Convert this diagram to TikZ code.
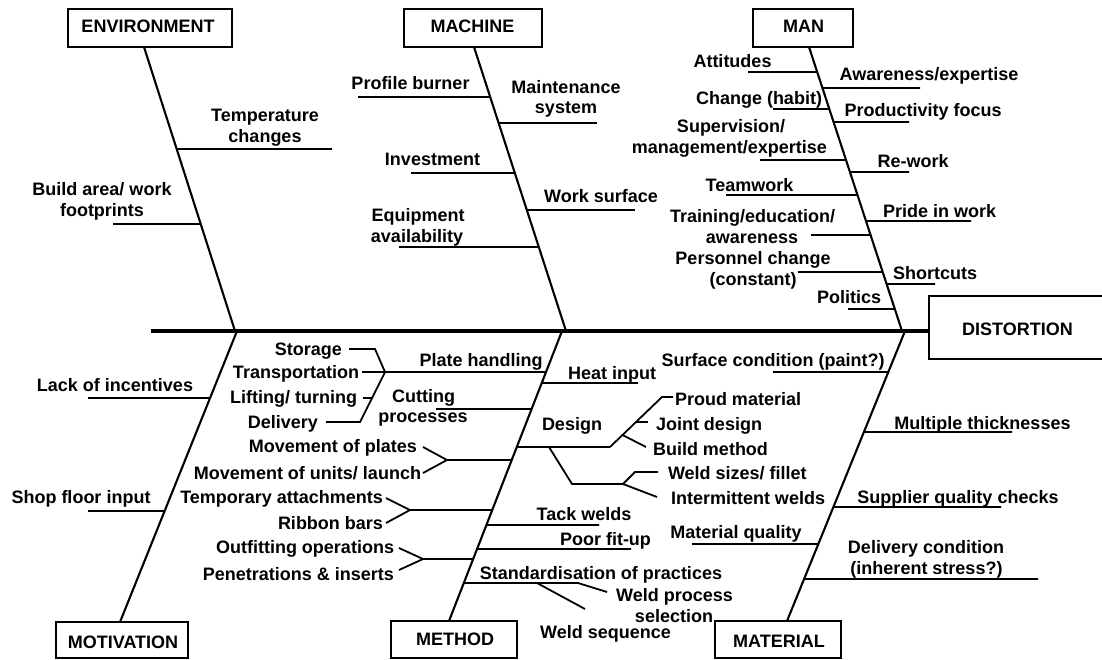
\documentclass[tikz,border=0pt]{standalone}
\usepackage{fontspec}
\setmainfont{Liberation Sans}
\newcommand\lbf{\fontsize{18}{21}\selectfont\bfseries}
\tikzset{
  lbl/.style={font=\lbf, inner sep=0pt, outer sep=0pt},
  boxn/.style={draw, line width=2pt, inner sep=0pt},
  spine/.style={line width=2.1pt},
  branch/.style={line width=1.8pt},
  mainl/.style={line width=4pt},
}
\newcommand\brn[3]{\draw[branch] (intersection of #1T--#1B and 0,#2--1,#2) -- (#3,#2);}
\begin{document}
\begin{tikzpicture}[x=1pt,y=-1pt]
\useasboundingbox (0,0) rectangle (1102,659);
\clip (0,0) rectangle (1102,659);
\fill[white] (0,0) rectangle (1102,659);

% ---- boxes
\node[boxn, minimum width=164pt, minimum height=38pt] (env) at (150,28) {};
\node[lbl, anchor=base] (envL) at (148,32) {ENVIRONMENT};
\node[boxn, minimum width=138pt, minimum height=38pt] (mac) at (473,28) {};
\node[lbl, anchor=base] (macL) at (472.5,32) {MACHINE};
\node[boxn, minimum width=100pt, minimum height=38pt] (man) at (803,28) {};
\node[lbl, anchor=base] (manL) at (803.5,32) {MAN};
\node[boxn, minimum width=132pt, minimum height=36pt] (mot) at (122,640) {};
\node[lbl, anchor=base] (motL) at (123,648) {MOTIVATION};
\node[boxn, minimum width=126pt, minimum height=37pt] (met) at (454,639.5) {};
\node[lbl, anchor=base] (metL) at (455,645) {METHOD};
\node[boxn, minimum width=126pt, minimum height=37pt] (mat) at (778,639.5) {};
\node[lbl, anchor=base] (matL) at (779,647) {MATERIAL};
\node[boxn, line width=2.5pt, minimum width=181pt, minimum height=63pt] (dist) at (1019.5,327.5) {};
\node[lbl, anchor=base] (distL) at (1017.5,335) {DISTORTION};

% ---- spines
\coordinate (envT) at (144,47);  \coordinate (envB) at (235,331);
\coordinate (macT) at (474,47);  \coordinate (macB) at (566,331);
\coordinate (manT) at (809,47);  \coordinate (manB) at (902,331);
\coordinate (motT) at (237,331); \coordinate (motB) at (120,622);
\coordinate (metT) at (562,331); \coordinate (metB) at (449,621);
\coordinate (matT) at (905,331); \coordinate (matB) at (787,621);
\coordinate (mainS) at (151,331);
\draw[mainl] (mainS) -- (mainS -| dist.west);
\foreach \s in {env,mac,man,mot,met,mat} {\draw[spine] (\s T) -- (\s B);}

% ---- ENVIRONMENT
\brn{env}{149}{332}
\node[lbl, anchor=base] (e1a) at (265,121) {Temperature};
\node[lbl, anchor=base] (e1b) at (265,142) {changes};
\brn{env}{224}{113}
\node[lbl, anchor=base] (e2a) at (102,195) {Build area/ work};
\node[lbl, anchor=base] (e2b) at (102,216) {footprints};

% ---- MACHINE
\brn{mac}{97}{358}
\node[lbl, anchor=base] (m1) at (410.5,89) {Profile burner};
\brn{mac}{123}{597}
\node[lbl, anchor=base] (m2a) at (566,93) {Maintenance};
\node[lbl, anchor=base] (m2b) at (566,113) {system};
\brn{mac}{173}{411}
\node[lbl, anchor=base] (m3) at (432.5,165) {Investment};
\brn{mac}{210}{635}
\node[lbl, anchor=base] (m4) at (601,202) {Work surface};
\brn{mac}{247}{399}
\node[lbl, anchor=base] (m5a) at (418,221) {Equipment};
\node[lbl, anchor=base] (m5b) at (417,242) {availability};

% ---- MAN
\brn{man}{72}{748}
\node[lbl, anchor=base] (n1) at (732.5,67) {Attitudes};
\brn{man}{88}{920}
\node[lbl, anchor=base] (n2) at (929,80) {Awareness/expertise};
\brn{man}{109}{773}
\node[lbl, anchor=base] (n3) at (759,104) {Change (habit)};
\brn{man}{122}{909}
\node[lbl, anchor=base] (n4) at (923,116) {Productivity focus};
\brn{man}{160}{760}
\node[lbl, anchor=base] (n5a) at (731,132) {Supervision/};
\node[lbl, anchor=base east] (n5b) at (827,153) {management/expertise};
\brn{man}{172}{909}
\node[lbl, anchor=base] (n6) at (913,167) {Re-work};
\brn{man}{195}{726}
\node[lbl, anchor=base] (n7) at (749.5,191) {Teamwork};
\brn{man}{221}{971}
\node[lbl, anchor=base] (n8) at (939.5,217) {Pride in work};
\brn{man}{235}{811}
\node[lbl, anchor=base] (n9a) at (752.5,222) {Training/education/};
\node[lbl, anchor=base] (n9b) at (752,243) {awareness};
\brn{man}{272}{798}
\node[lbl, anchor=base] (n10a) at (753,264) {Personnel change};
\node[lbl, anchor=base] (n10b) at (753,285) {(constant)};
\brn{man}{284}{935}
\node[lbl, anchor=base] (n11) at (935,279) {Shortcuts};
\brn{man}{309}{848}
\node[lbl, anchor=base] (n12) at (849,303) {Politics};

% ---- MOTIVATION
\brn{mot}{398}{88}
\node[lbl, anchor=base] (v1) at (115,391) {Lack of incentives};
\brn{mot}{511}{88}
\node[lbl, anchor=base] (v2) at (81,503) {Shop floor input};

% ---- METHOD
\brn{met}{372}{385}
\coordinate (fk1) at (385,372);
\draw[branch] (fk1) -- (375,349) -- (349,349);
\draw[branch] (fk1) -- (362,372);
\draw[branch] (fk1) -- (360,422) -- (326,422);
\draw[branch] (372,398) -- (363,398);
\node[lbl, anchor=base] (d1) at (481,366) {Plate handling};
\node[lbl, anchor=base east] (d1a) at (342,355) {Storage};
\node[lbl, anchor=base east] (d1b) at (359,378) {Transportation};
\node[lbl, anchor=base east] (d1c) at (357,403) {Lifting/ turning};
\node[lbl, anchor=base east] (d1d) at (318,428) {Delivery};

\brn{met}{383}{638}
\node[lbl, anchor=base] (d2) at (612,379) {Heat input};
\brn{met}{409}{436}
\node[lbl, anchor=base] (d3a) at (423.5,402) {Cutting};
\node[lbl, anchor=base] (d3b) at (423,422) {processes};

\brn{met}{447}{610}
\node[lbl, anchor=base] (d4) at (572,430) {Design};
\coordinate (fk2) at (610,447);
\draw[branch] (fk2) -- (662,397) -- (673,397);
\draw[branch] (636,422) -- (648,422);
\draw[branch] (622.5,435) -- (646,447);
\coordinate (fk3) at (623,484);
\draw[branch] (549,447) -- (572,484) -- (fk3);
\draw[branch] (fk3) -- (635,472) -- (658,472);
\draw[branch] (fk3) -- (657,497);
\node[lbl, anchor=base west] (d4a) at (675,405) {Proud material};
\node[lbl, anchor=base west] (d4b) at (656,430) {Joint design};
\node[lbl, anchor=base west] (d4c) at (653,455) {Build method};
\node[lbl, anchor=base west] (d4d) at (668,479) {Weld sizes/ fillet};
\node[lbl, anchor=base west] (d4e) at (671,504) {Intermittent welds};

\brn{met}{460}{447}
\coordinate (fk4) at (447,460);
\draw[branch] (fk4) -- (423,447);
\draw[branch] (fk4) -- (423,473);
\node[lbl, anchor=base east] (d5a) at (417,452) {Movement of plates};
\node[lbl, anchor=base east] (d5b) at (421,479) {Movement of units/ launch};

\brn{met}{510}{410}
\coordinate (fk5) at (410,510);
\draw[branch] (fk5) -- (386,498);
\draw[branch] (fk5) -- (386,523);
\node[lbl, anchor=base east] (d6a) at (383,503) {Temporary attachments};
\node[lbl, anchor=base east] (d6b) at (383,529) {Ribbon bars};

\brn{met}{525}{599}
\node[lbl, anchor=base] (d7) at (584,520) {Tack welds};
\brn{met}{549}{631}
\node[lbl, anchor=base] (d8) at (605.5,545) {Poor fit-up};

\brn{met}{559}{423}
\coordinate (fk6) at (423,559);
\draw[branch] (fk6) -- (399,548);
\draw[branch] (fk6) -- (399,570);
\node[lbl, anchor=base east] (d9a) at (394,553) {Outfitting operations};
\node[lbl, anchor=base east] (d9b) at (394,580) {Penetrations \& inserts};

\brn{met}{583}{578}
\draw[branch] (578,583) -- (607,592);
\draw[branch] (537,583) -- (585,609);
\node[lbl, anchor=base] (d10) at (601,579) {Standardisation of practices};
\node[lbl, anchor=base] (d10a) at (674.5,601) {Weld process};
\node[lbl, anchor=base] (d10b) at (674,622) {selection};
\node[lbl, anchor=base] (d10c) at (605.5,638) {Weld sequence};

% ---- MATERIAL
\brn{mat}{372}{773}
\node[lbl, anchor=base] (t1) at (773,366) {Surface condition (paint?)};
\brn{mat}{432}{1012}
\node[lbl, anchor=base] (t2) at (982.5,429) {Multiple thicknesses};
\brn{mat}{507}{1001}
\node[lbl, anchor=base] (t3) at (958,503) {Supplier quality checks};
\brn{mat}{544}{692}
\node[lbl, anchor=base] (t4) at (736,538) {Material quality};
\brn{mat}{579}{1038}
\node[lbl, anchor=base] (t5a) at (926,553) {Delivery condition};
\node[lbl, anchor=base] (t5b) at (926.5,574) {(inherent stress?)};
\end{tikzpicture}
\end{document}
